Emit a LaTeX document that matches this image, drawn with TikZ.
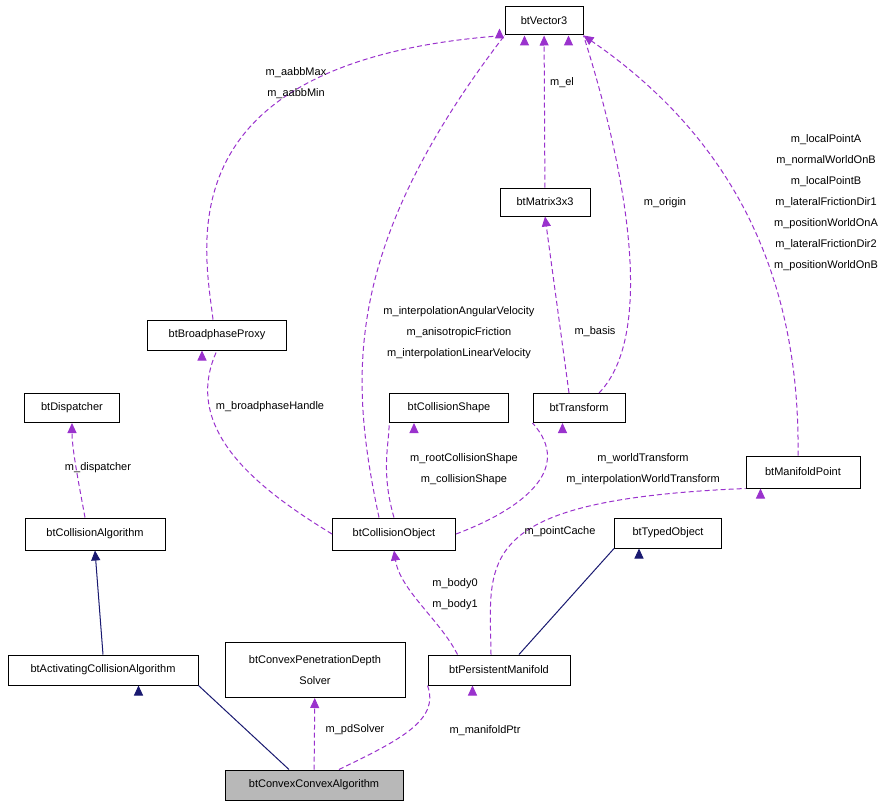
\documentclass[tikz,border=0pt]{standalone}
\usepackage{fontspec}
\setmainfont{Liberation Sans}
\usetikzlibrary{arrows.meta}
\definecolor{orchid}{HTML}{9A32CD}
\definecolor{navy}{HTML}{191970}
\tikzset{
  cls/.style={draw, line width=1pt, fill=white, inner sep=2pt, font=\fontsize{11}{21}\selectfont, align=center},
  usage/.style={dashed, line width=1pt, draw=orchid, dash pattern=on 5pt off 3pt, -{Triangle[length=10pt,width=9pt,fill=orchid]}},
  inherit/.style={line width=1pt, draw=navy, -{Triangle[length=10pt,width=9pt,fill=navy]}},
  lbl/.style={font=\fontsize{11}{21}\selectfont, align=center}
}
\begin{document}
\begin{tikzpicture}[x=1pt,y=-1pt]
	\useasboundingbox (0,0) rectangle (893,808);
	% classes
	\node[cls, minimum width=78, minimum height=28] (vec) at (544,21) {btVector3};
	\node[cls, minimum width=90, minimum height=28] (mat) at (545,202) {btMatrix3x3};
	\node[cls, minimum width=139, minimum height=30] (bpp) at (217,335) {btBroadphaseProxy};
	\node[cls, minimum width=95, minimum height=29] (disp) at (72,408) {btDispatcher};
	\node[cls, minimum width=119, minimum height=29] (shape) at (449,408) {btCollisionShape};
	\node[cls, minimum width=92, minimum height=29] (trans) at (579,408) {btTransform};
	\node[cls, minimum width=114, minimum height=32] (mpt) at (803,472) {btManifoldPoint};
	\node[cls, minimum width=140, minimum height=32] (calg) at (95,534) {btCollisionAlgorithm};
	\node[cls, minimum width=123, minimum height=32] (cobj) at (394,534) {btCollisionObject};
	\node[cls, minimum width=107, minimum height=30] (typed) at (668,533) {btTypedObject};
	\node[cls, minimum width=190, minimum height=30] (act) at (103,670) {btActivatingCollisionAlgorithm};
	\node[cls, minimum width=180, minimum height=55, text width=172] (pen) at (315,670) {btConvexPenetrationDepth\\Solver};
	\node[cls, minimum width=142, minimum height=30] (pman) at (499,670) {btPersistentManifold};
	\node[cls, fill=black!28, minimum width=178, minimum height=30] (conv) at (314,785) {btConvexConvexAlgorithm};
	% inheritance
	\draw[inherit] (conv.north) ++(-25,0) -- (act.south east) ++(-60,0);
	\draw[inherit] (act.north) -- (calg.south);
	\draw[inherit] (pman.north) ++(20,0) -- (typed.south west) ++(25,0);
	% members
	\draw[usage] (conv) -- (pen);
	\node[lbl] (l1) at (355,730) {m\_pdSolver};
	\draw[usage] (conv.north) ++(25,0) .. controls (400,740) and (440,720) .. (pman.south west) ++(45,0);
	\node[lbl] (l2) at (485,731) {m\_manifoldPtr};
	\draw[usage] (calg.north) ++(-10,0) .. controls (80,490) and (72,450) .. (disp.south);
	\node[lbl] (l3) at (98,468) {m\_dispatcher};
	\draw[usage] (cobj.west) .. controls (260,490) and (180,430) .. (bpp.south) ++(-15,0);
	\node[lbl] (l4) at (270,407) {m\_broadphaseHandle};
	\draw[usage] (cobj.north) .. controls (380,470) and (390,440) .. (shape.south west) ++(25,0);
	\node[lbl] (l5) at (464,469) {m\_rootCollisionShape\\m\_collisionShape};
	\draw[usage] (cobj.east) .. controls (520,510) and (575,470) .. (trans.south west) ++(30,0);
	\node[lbl] (l6) at (643,469) {m\_worldTransform\\m\_interpolationWorldTransform};
	\draw[usage] (cobj.north) ++(-15,0) .. controls (350,380) and (340,250) .. (vec.south west) ++(20,0);
	\node[lbl] (l7) at (459,333) {m\_interpolationAngularVelocity\\m\_anisotropicFriction\\m\_interpolationLinearVelocity};
	\draw[usage] (pman.north west) ++(30,0) .. controls (440,620) and (400,590) .. (cobj.south);
	\node[lbl] (l8) at (455,594) {m\_body0\\m\_body1};
	\draw[usage] (pman.north) ++(-8,0) .. controls (490,560) and (470,500) .. (mpt.south west) ++(15,0);
	\node[lbl] (l9) at (560,532) {m\_pointCache};
	\draw[usage] (bpp.north) ++(-4,0) .. controls (205,250) and (160,60) .. (vec.south west) ++(-5,-7);
	\node[lbl] (l10) at (296,83) {m\_aabbMax\\m\_aabbMin};
	\draw[usage] (mat) -- (vec);
	\node[lbl] (l11) at (562,83) {m\_el};
	\draw[usage] (trans.north) ++(-10,0) -- (mat.south);
	\node[lbl] (l12) at (595,332) {m\_basis};
	\draw[usage] (trans.north) ++(20,0) .. controls (660,330) and (620,150) .. (vec.south east) ++(-15,0);
	\node[lbl] (l13) at (665,203) {m\_origin};
	\draw[usage] (mpt.north) ++(-5,0) .. controls (800,300) and (750,150) .. (vec.south east);
	\node[lbl] (l14) at (826,203) {m\_localPointA\\m\_normalWorldOnB\\m\_localPointB\\m\_lateralFrictionDir1\\m\_positionWorldOnA\\m\_lateralFrictionDir2\\m\_positionWorldOnB};
\end{tikzpicture}
\end{document}
